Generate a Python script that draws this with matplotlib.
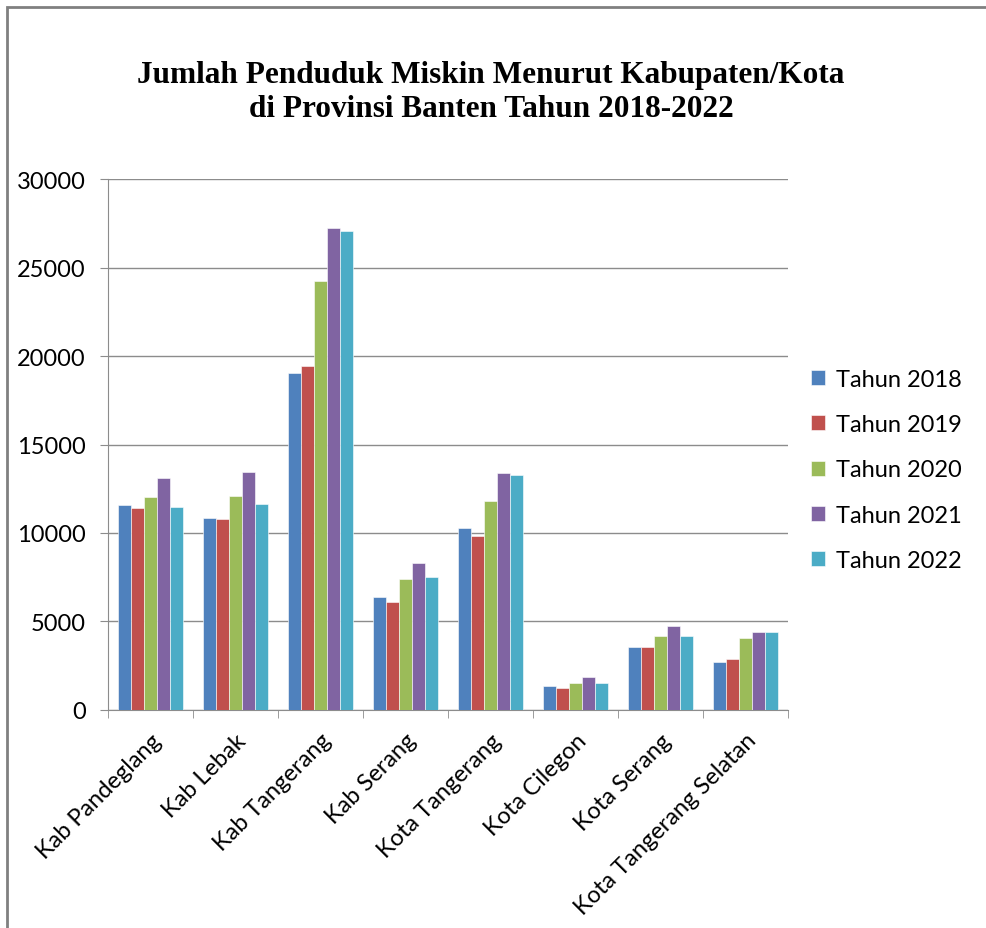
import numpy as np
import matplotlib.pyplot as plt
from matplotlib.patches import Rectangle

# data (jumlah penduduk miskin)
wilayah = ["Kab Pandeglang", "Kab Lebak", "Kab Tangerang", "Kab Serang",
           "Kota Tangerang", "Kota Cilegon", "Kota Serang", "Kota Tangerang Selatan"]
tahun = ["Tahun 2018", "Tahun 2019", "Tahun 2020", "Tahun 2021", "Tahun 2022"]
t2018 = [11570, 10840, 19020, 6370, 10280, 1370, 3550, 2730]
t2019 = [11390, 10780, 19420, 6080, 9820, 1220, 3550, 2890]
t2020 = [12010, 12090, 24240, 7410, 11790, 1550, 4160, 4040]
t2021 = [13110, 13470, 27250, 8310, 13390, 1850, 4720, 4380]
t2022 = [11450, 11650, 27050, 7490, 13250, 1550, 4160, 4380]
warna = ["#4F81BD", "#C0504D", "#9BBB59", "#8064A2", "#4BACC6"]

semua = [t2018, t2019, t2020, t2021, t2022]

fig = plt.figure(figsize=(9.86, 9.29), dpi=100)
ax = fig.add_axes([0.1095, 0.2347, 0.6897, 0.5715])

# bingkai luar
fig.patches.append(Rectangle((0.007, -0.05), 1.1, 1.041, transform=fig.transFigure,
                             fill=False, edgecolor="#808080", lw=2))

x = np.arange(len(wilayah))
lebar = 0.155
for i, (seri, c) in enumerate(zip(semua, warna)):
    ax.bar(x + (i - 2) * lebar, seri, lebar, color=c, label=tahun[i],
           edgecolor="white", linewidth=0.4, zorder=3)

ax.set_xlim(-0.5, len(wilayah) - 0.5)
ax.set_ylim(0, 30000)
ax.set_yticks(np.arange(0, 30001, 5000))
ax.yaxis.grid(True, color="#8c8c8c", lw=1, zorder=0)

ax.set_xticks(x)
ax.set_xticklabels(wilayah, rotation=45, ha="right", rotation_mode="anchor",
                   fontsize=17, family="Lato")
ax.set_xticks(np.arange(-0.5, len(wilayah)), minor=True)
ax.tick_params(axis="x", which="major", length=0, pad=14)
ax.tick_params(axis="x", which="minor", length=6, color="#8c8c8c")
ax.tick_params(axis="y", length=6, color="#8c8c8c", labelsize=17, pad=10)
for lbl in ax.get_yticklabels():
    lbl.set_family("Lato")

for s in ["top", "right"]:
    ax.spines[s].set_visible(False)
for s in ["left", "bottom"]:
    ax.spines[s].set_color("#8c8c8c")

fig.text(0.498, 0.9004, "Jumlah Penduduk Miskin Menurut Kabupaten/Kota\ndi Provinsi Banten Tahun 2018-2022",
         ha="center", va="center", fontsize=22.5, fontweight="bold",
         family="Liberation Serif", linespacing=1.2)

ax.legend(loc="center left", bbox_to_anchor=(1.02, 0.452), frameon=False,
          prop={"family": "Lato", "size": 17}, handlelength=0.6, handleheight=0.6,
          handletextpad=0.45, labelspacing=1.03, borderaxespad=0)

fig.savefig("out.png", dpi=100)
